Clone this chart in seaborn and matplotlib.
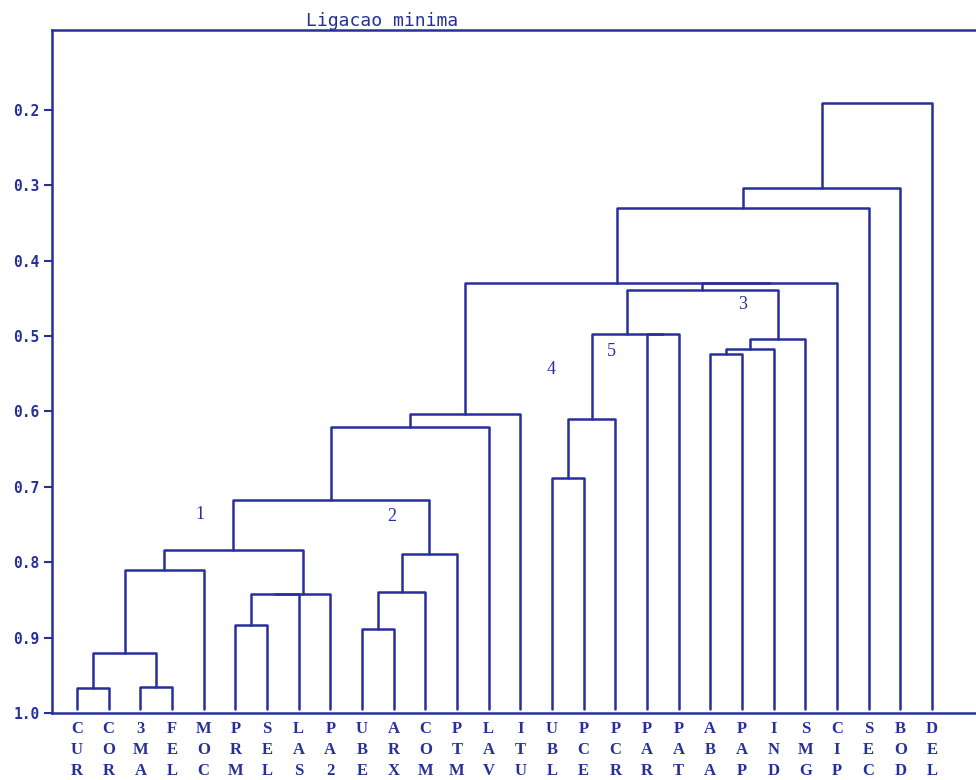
import matplotlib
matplotlib.use("Agg")
import matplotlib.pyplot as plt
import numpy as np
import pandas as pd
import seaborn as sns

# Leaf codes (left to right along the dendrogram)
leaves = ["CUR", "COR", "3MA", "FEL", "MOC", "PRM", "SEL", "LAS", "PA2",
          "UBE", "ARX", "COM", "PTM", "LAV", "ITU", "UBL", "PCE", "PCR",
          "PAR", "PAT", "ABA", "PAP", "IND", "SMG", "CIP", "SEC", "BOD", "DEL"]

# Agglomeration steps: (left node, right node, similarity); new nodes get ids 28, 29, ...
merge_left = [0, 2, 28, 30, 5, 32, 33, 31, 9, 36, 37, 35, 39, 40,
              15, 42, 18, 43, 20, 46, 47, 45, 49, 41, 51, 52, 53]
merge_right = [1, 3, 29, 4, 6, 7, 8, 34, 10, 11, 12, 38, 13, 14,
               16, 17, 19, 44, 21, 22, 23, 48, 24, 50, 25, 26, 27]
merge_sim = [0.967, 0.965, 0.920, 0.810, 0.883, 0.842, 0.842, 0.784,
             0.888, 0.840, 0.789, 0.717, 0.620, 0.603,
             0.688, 0.610, 0.497, 0.497, 0.524, 0.517, 0.504,
             0.439, 0.429, 0.429, 0.330, 0.304, 0.191]

# Group markers written on the plot
group_names = ["1", "2", "3", "4", "5"]
group_x = [3.88, 9.95, 21.03, 14.97, 16.89]
group_y = [0.737, 0.739, 0.458, 0.545, 0.521]

y_ticks = [0.2, 0.3, 0.4, 0.5, 0.6, 0.7, 0.8, 0.9, 1.0]

ink = "#27309a"
leaf_base = 0.995

# Node positions and heights
pos = {i: float(i) for i in range(len(leaves))}
height = {i: leaf_base for i in range(len(leaves))}
rows = []
for k, (a, b, s) in enumerate(zip(merge_left, merge_right, merge_sim)):
    node = len(leaves) + k
    path_x = [pos[a], pos[a], pos[b], pos[b]]
    path_y = [height[a], s, s, height[b]]
    for px, py in zip(path_x, path_y):
        rows.append({"link": k, "x": px, "y": py})
    pos[node] = (pos[a] + pos[b]) / 2.0
    height[node] = s
links = pd.DataFrame(rows)

sns.set_theme(style="white")
plt.rcParams["font.family"] = ["DejaVu Sans Mono", "DejaVu Sans"]

fig = plt.figure(figsize=(9.76, 7.8), dpi=100)
ax = fig.add_axes([52 / 976, 67 / 780, 924 / 976, 683 / 780])

sns.lineplot(data=links, x="x", y="y", units="link", estimator=None,
             sort=False, color=ink, linewidth=1.8, ax=ax, legend=False)

ax.set_xlim(-0.79, 28.39)
ax.set_ylim(1.0, 0.094)

ax.set_yticks(y_ticks)
ax.set_yticklabels([f"{v:.1f}" for v in y_ticks], fontsize=10.5,
                   color=ink, fontweight="bold")
ax.set_xticks(range(len(leaves)))
ax.set_xticklabels(["\n".join(code) for code in leaves],
                   family="Liberation Serif", fontweight="bold",
                   fontsize=12, color=ink, linespacing=1.42, va="top")
ax.tick_params(axis="y", direction="out", length=6, width=1.5, color=ink,
               left=True, pad=3)
ax.tick_params(axis="x", length=0, pad=6)
ax.set_xlabel("")
ax.set_ylabel("")

for side in ["left", "top", "bottom"]:
    ax.spines[side].set_color(ink)
    ax.spines[side].set_linewidth(1.8)
ax.spines["right"].set_visible(False)

for name, gx, gy in zip(group_names, group_x, group_y):
    ax.text(gx, gy, name, ha="center", va="center", fontsize=13,
            color=ink, family="Liberation Serif")

fig.text(382 / 976, (780 - 26) / 780, "Ligacao minima", ha="center",
         va="baseline", fontsize=13, color=ink)

fig.savefig("out.png", dpi=100)
